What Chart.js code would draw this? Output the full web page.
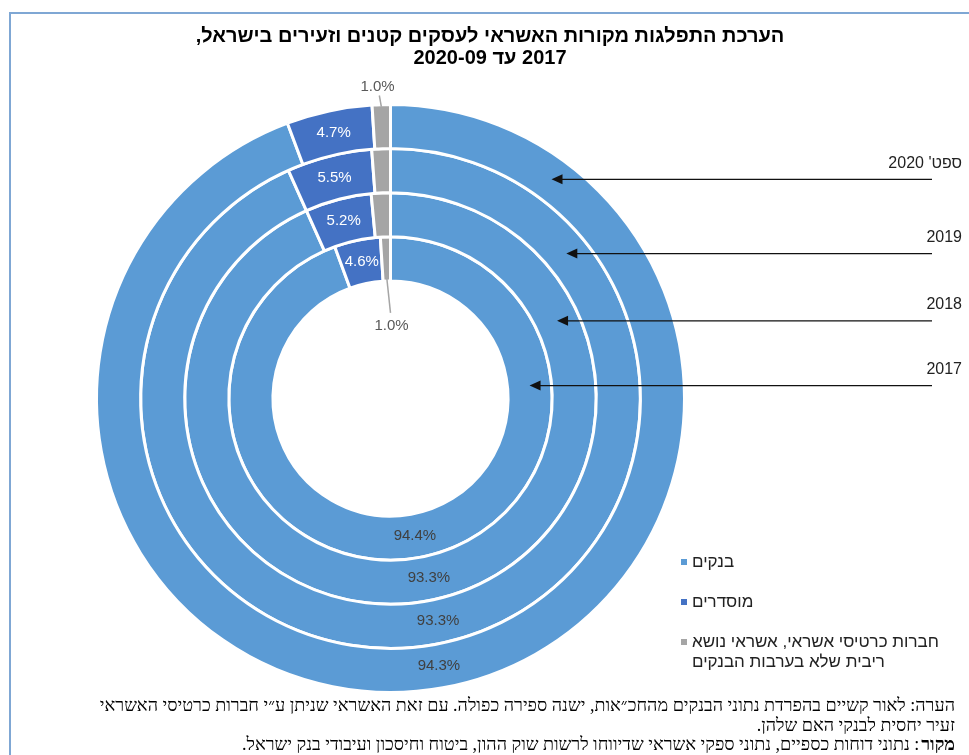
<!DOCTYPE html>
<html>
<head>
<meta charset="utf-8">
<script src="https://cdn.jsdelivr.net/npm/chart.js@4.4.0/dist/chart.umd.min.js"></script>
<style>
  body { margin: 0; background: #fff; }
  #wrap { width: 969px; height: 755px; }
</style>
</head>
<body>
<div id="wrap"><canvas id="myChart" width="969" height="755"></canvas></div>
<script>
// categories (legend) and one array per ring, outer ring first
var categories = ['בנקים', 'מוסדרים', ['חברות כרטיסי אשראי, אשראי נושא', 'ריבית שלא בערבות הבנקים']];
var ringLabels = ["ספט' 2020", '2019', '2018', '2017'];
var sep2020 = [94.3, 4.7, 1.0];
var y2019 = [93.3, 5.5, 1.2];
var y2018 = [93.3, 5.2, 1.5];
var y2017 = [94.4, 4.6, 1.0];

var titleLines = ['הערכת התפלגות מקורות האשראי לעסקים קטנים וזעירים בישראל,', '2017 עד 2020-09'];
var noteLines = [
    'הערה: לאור קשיים בהפרדת נתוני הבנקים מהחכ״אות, ישנה ספירה כפולה. עם זאת האשראי שניתן ע״י חברות כרטיסי האשראי',
    'זעיר יחסית לבנקי האם שלהן.'
];
var sourceHead = 'מקור';
var sourceText = ': נתוני דוחות כספיים, נתוני ספקי אשראי שדיווחו לרשות שוק ההון, ביטוח וחיסכון ועיבודי בנק ישראל.';

var colors = ['#5B9BD5', '#4472C4', '#A5A5A5'];
var font = '"Liberation Sans", Arial, sans-serif';

var decor = {
    id: 'decor',
    afterDraw: function(chart, args, opts) {
        var ctx = chart.ctx;
        ctx.save();

        // frame
        ctx.strokeStyle = '#7FA7D4';
        ctx.lineWidth = 2;
        ctx.beginPath();
        ctx.moveTo(10, 755);
        ctx.lineTo(10, 13);
        ctx.lineTo(969, 13);
        ctx.stroke();

        // title
        ctx.direction = 'rtl';
        ctx.fillStyle = '#000';
        ctx.textAlign = 'center';
        ctx.textBaseline = 'middle';
        ctx.font = 'bold 20px ' + font;
        ctx.fillText(titleLines[0], 490, 36);
        ctx.fillText(titleLines[1], 490, 58);

        var metas = chart.data.datasets.map(function(d, i) { return chart.getDatasetMeta(i); });
        var last = metas.length - 1;

        // value labels
        ctx.font = '15px ' + font;
        metas.forEach(function(meta, d) {
            meta.data.forEach(function(arc, j) {
                var p = arc.getProps(['x', 'y', 'startAngle', 'endAngle', 'innerRadius', 'outerRadius'], true);
                var mid = (p.startAngle + p.endAngle) / 2;
                var r = (p.innerRadius + p.outerRadius) / 2;
                var txt = chart.data.datasets[d].data[j].toFixed(1) + '%';
                ctx.direction = 'ltr';
                ctx.textAlign = 'center';
                if (j === 0) {
                    ctx.fillStyle = '#404040';
                    ctx.fillText(txt, p.x + Math.cos(mid) * r, p.y + Math.sin(mid) * r);
                } else if (j === 1) {
                    ctx.fillStyle = '#fff';
                    ctx.fillText(txt, p.x + Math.cos(mid) * r, p.y + Math.sin(mid) * r);
                } else if (d === 0 || d === last) {
                    ctx.strokeStyle = '#A5A5A5';
                    ctx.lineWidth = 1.5;
                    ctx.fillStyle = '#595959';
                    ctx.beginPath();
                    if (d === 0) {
                        var r0 = p.outerRadius - 2;
                        ctx.moveTo(p.x + Math.cos(mid) * r0, p.y + Math.sin(mid) * r0);
                        ctx.lineTo(p.x + Math.cos(mid) * r0 - 2, p.y - p.outerRadius - 9);
                        ctx.stroke();
                        ctx.fillText(txt, p.x - 13, p.y - p.outerRadius - 18);
                    } else {
                        var r1 = p.innerRadius + 4;
                        ctx.moveTo(p.x + Math.cos(mid) * r1, p.y + Math.sin(mid) * r1);
                        ctx.lineTo(p.x, p.y - p.innerRadius + 32);
                        ctx.stroke();
                        ctx.fillText(txt, p.x + 1, p.y - p.innerRadius + 45);
                    }
                }
            });
        });

        // ring arrows
        opts.arrowAngles.forEach(function(deg, d) {
            var p = metas[d].data[0].getProps(['x', 'y', 'innerRadius', 'outerRadius'], true);
            var r = (p.innerRadius + p.outerRadius) / 2;
            var a = (deg - 90) * Math.PI / 180;
            var tx = p.x + Math.cos(a) * r, ty = p.y + Math.sin(a) * r;
            ctx.strokeStyle = '#111';
            ctx.fillStyle = '#111';
            ctx.lineWidth = 1.2;
            ctx.beginPath();
            ctx.moveTo(932, ty);
            ctx.lineTo(tx + 8, ty);
            ctx.stroke();
            ctx.beginPath();
            ctx.moveTo(tx, ty);
            ctx.lineTo(tx + 11, ty - 5);
            ctx.lineTo(tx + 11, ty + 5);
            ctx.closePath();
            ctx.fill();
            ctx.direction = 'rtl';
            ctx.textAlign = 'right';
            ctx.font = '16px ' + font;
            ctx.fillStyle = '#222';
            ctx.fillText(ringLabels[d], 962, ty - 16);
        });

        // legend
        ctx.font = '17px ' + font;
        var ly = [562, 602, 642];
        categories.forEach(function(cat, i) {
            var lines = Array.isArray(cat) ? cat : [cat];
            ctx.fillStyle = colors[i];
            ctx.fillRect(681, ly[i] - 3, 6, 6);
            ctx.fillStyle = '#222';
            ctx.direction = 'rtl';
            ctx.textAlign = 'left';
            lines.forEach(function(l, k) {
                ctx.fillText(l, 692, ly[i] + k * 20);
            });
        });

        // note and source
        var nf = '"Liberation Serif", "Times New Roman", serif';
        ctx.font = '18px ' + nf;
        ctx.fillStyle = '#000';
        ctx.direction = 'rtl';
        ctx.textAlign = 'right';
        ctx.fillText(noteLines[0], 955, 706);
        ctx.fillText(noteLines[1], 955, 726);
        ctx.font = 'bold 18px ' + nf;
        ctx.fillText(sourceHead, 955, 745);
        var w = ctx.measureText(sourceHead).width;
        ctx.font = '18px ' + nf;
        ctx.fillText(sourceText, 955 - w - 2, 745);

        ctx.restore();
    }
};

var ctx = document.getElementById('myChart').getContext('2d');
var myChart = new Chart(ctx, {
    type: 'doughnut',
    data: {
        labels: categories,
        datasets: [
            { label: ringLabels[0], data: sep2020, backgroundColor: colors, borderColor: '#fff', borderWidth: 3 },
            { label: ringLabels[1], data: y2019, backgroundColor: colors, borderColor: '#fff', borderWidth: 3 },
            { label: ringLabels[2], data: y2018, backgroundColor: colors, borderColor: '#fff', borderWidth: 3 },
            { label: ringLabels[3], data: y2017, backgroundColor: colors, borderColor: '#fff', borderWidth: 3 }
        ]
    },
    options: {
        responsive: false,
        animation: false,
        cutout: '40%',
        layout: { padding: { left: 95, right: 283, top: 103, bottom: 61 } },
        plugins: {
            legend: { display: false },
            title: { display: false },
            tooltip: { enabled: false },
            decor: { arrowAngles: [36.3, 50.5, 65, 84.7] }
        }
    },
    plugins: [decor]
});
</script>
</body>
</html>
